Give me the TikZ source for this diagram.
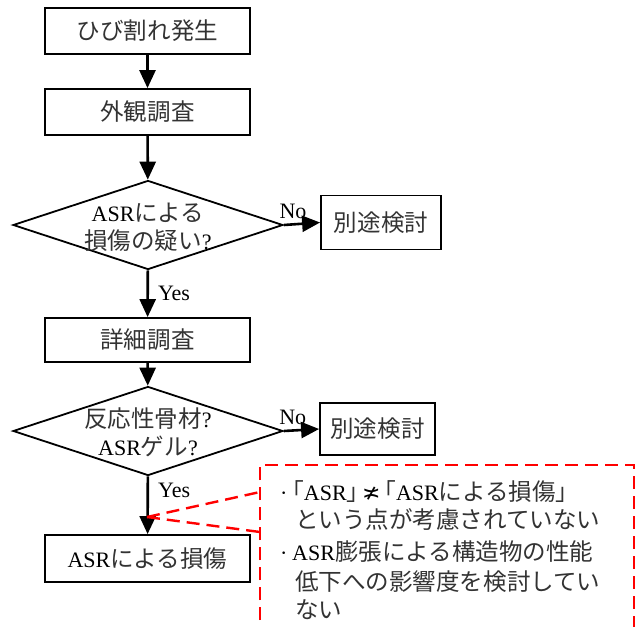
\documentclass[tikz,border=0pt]{standalone}
\usepackage{fontspec}
\setmainfont{Liberation Serif}
\newfontfamily\jp[Scale=1.07]{Noto Sans CJK JP}
\newfontfamily\symfont{DejaVu Sans}
\usetikzlibrary{shapes.geometric,arrows.meta}
\newcommand{\J}[1]{{\jp\color{black!80}#1}}
\begin{document}
\begin{tikzpicture}[x=1pt,y=-1pt,
  every node/.style={font=\fontsize{22}{28}\selectfont},
  procbox/.style={draw,line width=1.8pt,minimum width=205pt,minimum height=46pt,inner sep=0pt},
  altbox/.style={draw,line width=1.8pt,minimum width=120pt,minimum height=54pt,inner sep=0pt},
  decision/.style={draw,diamond,line width=1.8pt,minimum width=270pt,minimum height=89pt,aspect=3.03,inner sep=0pt},
  flow/.style={line width=2.6pt,-{Triangle[length=18pt,width=16pt]}},
  callout/.style={red,line width=2.4pt,dash pattern=on 13pt off 7pt},
  lbl/.style={inner sep=0pt},
]
\useasboundingbox (0,0) rectangle (639,626);

\node[procbox] (b1) at (147.5,31) {\J{ひび割れ発生}};
\node[procbox] (b2) at (147.5,112) {\J{外観調査}};
\node[decision] (d1) at (148,225) {};
\node[align=center,lbl] (d1t) at (148,227) {ASR\J{による}\\\J{損傷の疑い}?};
\node[altbox] (n1) at (381,222.5) {\J{別途検討}};
\node[procbox,minimum height=44pt] (b3) at (147.5,340) {\J{詳細調査}};
\node[decision] (d2) at (148,431) {};
\node[align=center,lbl] (d2t) at (148,432) {\J{反応性骨材}?\\ASR\J{ゲル}?};
\node[altbox,minimum width=115pt,minimum height=52pt] (n2) at (377.5,429) {\J{別途検討}};
\node[procbox,minimum height=47pt] (b4) at (147.5,558.5) {ASR\J{による損傷}};

\draw[flow] (b1) -- (b2);
\draw[flow] (b2) -- (d1);
\draw[flow] (d1) -- node[pos=0.5,anchor=west,xshift=9pt,lbl] {Yes} (b3);
\draw[flow] (d1.east) -- node[pos=0.25,anchor=base,yshift=6pt,lbl] {No} (n1.west);
\draw[flow] (b3) -- (d2);
\draw[flow] (d2.east) -- node[pos=0.25,anchor=base,yshift=6pt,lbl] {No} (n2.west);
\draw[flow] (d2) -- node[pos=0.25,anchor=west,xshift=9pt,lbl] {Yes} (b4);

\coordinate (cp) at (147,517);
\coordinate (cbl) at (260,640);
\coordinate (ctl) at (260,465);
\coordinate (ctr) at (634,465);
\coordinate (cbr) at (634,640);
\coordinate (ca) at (260,492);
\coordinate (cb) at (260,532);
\draw[callout] (cbl) -- (ctl) -- (ctr) -- (cbr);
\draw[callout] (cp) -- (ca);
\draw[callout] (cp) -- (cb);

\node[anchor=base west,lbl] (l1) at (280,500) {\makebox[12pt][l]{·}\J{｢}ASR\J{｣}\,{\symfont ≭}\,\J{｢}ASR\J{による損傷｣}};
\node[anchor=base west,lbl] (l2) at (295,528) {\J{という点が考慮されていない}};
\node[anchor=base west,lbl] (l3) at (280,560) {\makebox[12pt][l]{·}ASR\J{膨張による構造物の性能}};
\node[anchor=base west,lbl] (l4) at (295,590) {\J{低下への影響度を検討してい}};
\node[anchor=base west,lbl] (l5) at (295,618) {\J{ない}};
\end{tikzpicture}
\end{document}
